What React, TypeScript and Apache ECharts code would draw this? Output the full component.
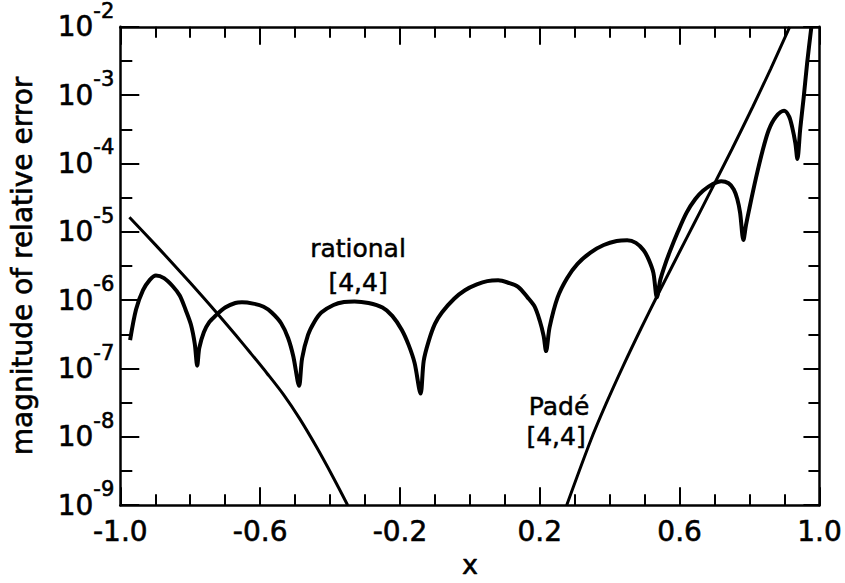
import React, { useEffect, useRef } from "react";
import * as echarts from "echarts";

// rational [4,4] approximation error (x, |relative error|)
const rationalX = [
  -0.972, -0.955, -0.935, -0.915, -0.898, -0.875, -0.85, -0.83, -0.813, -0.798, -0.787, -0.78,
  -0.774, -0.761, -0.745, -0.728, -0.7, -0.671, -0.652, -0.62, -0.59, -0.567, -0.54, -0.52, -0.505, -0.4885,
  -0.48, -0.463, -0.445, -0.425, -0.39, -0.36, -0.33, -0.29, -0.25, -0.222, -0.195, -0.175, -0.158, -0.141,
  -0.132, -0.118, -0.1, -0.08, -0.045, -0.014, 0.02, 0.05, 0.081, 0.11, 0.138, 0.165, 0.185, 0.2, 0.211, 0.218,
  0.228, 0.251, 0.278, 0.308, 0.345, 0.383, 0.42, 0.45, 0.475, 0.497, 0.512, 0.525, 0.535,
  0.545, 0.557, 0.572, 0.595, 0.62, 0.645, 0.667, 0.695, 0.719, 0.74, 0.755, 0.765, 0.773, 0.7825,
  0.79, 0.7995, 0.818, 0.837, 0.855, 0.875, 0.899, 0.913, 0.922, 0.931, 0.937,
  0.945, 0.955, 0.965, 0.977,
];
const rationalErr = [
  2.6e-7, 7.3e-7, 1.4e-6, 2.0e-6, 2.3e-6, 2.1e-6, 1.6e-6, 1.17e-6, 7.2e-7, 4.4e-7, 2.3e-7, 1.1e-7,
  2.0e-7, 3.4e-7, 4.8e-7, 5.9e-7, 7.8e-7, 9.1e-7, 9.3e-7, 8.9e-7, 8.0e-7, 6.6e-7, 4.6e-7, 2.8e-7, 1.5e-7, 5.6e-8,
  1.4e-7, 3.1e-7, 4.8e-7, 6.6e-7, 8.5e-7, 9.4e-7, 9.6e-7, 9.1e-7, 7.8e-7, 5.9e-7, 3.7e-7, 2.2e-7, 1.2e-7, 4.3e-8,
  1.3e-7, 2.5e-7, 4.5e-7, 6.6e-7, 1.05e-6, 1.4e-6, 1.7e-6, 1.9e-6, 1.95e-6, 1.8e-6, 1.57e-6, 1.1e-6, 8.1e-7, 5.0e-7, 3.0e-7, 1.8e-7,
  4.0e-7, 1.1e-6, 2.1e-6, 3.4e-6, 4.98e-6, 6.41e-6, 7.35e-6, 7.55e-6, 6.9e-6, 5.37e-6, 3.89e-6, 2.51e-6, 1.1e-6,
  2.0e-6, 3.16e-6, 5.13e-6, 1.0e-5, 1.91e-5, 3.02e-5, 3.98e-5, 5.01e-5, 5.5e-5, 5.13e-5, 4.17e-5, 3.02e-5, 1.91e-5, 7.6e-6,
  1.26e-5, 2.19e-5, 6.0e-5, 1.51e-4, 3.09e-4, 4.79e-4, 5.89e-4, 4.9e-4, 3.4e-4, 2.0e-4, 1.16e-4,
  3.2e-4, 9.3e-4, 3.0e-3, 1.0e-2,
];

// Padé [4,4] error, left branch
const padeLeftX = [-0.974, -0.9, -0.83, -0.77, -0.72, -0.67, -0.628, -0.58, -0.534, -0.4865, -0.439, -0.392, -0.3495];
const padeLeftErr = [1.63e-5, 6.5e-6, 2.65e-6, 1.21e-6, 6.17e-7, 3.09e-7, 1.7e-7, 8.47e-8, 4.21e-8, 1.83e-8, 7.14e-9, 2.61e-9, 1.0e-9];

// Padé [4,4] error, right branch
const padeRightX = [0.277, 0.3456, 0.39, 0.44, 0.49, 0.535, 0.58, 0.62, 0.66, 0.705, 0.75, 0.809, 0.86, 0.915];
const padeRightErr = [1.0e-9, 8.85e-9, 3.08e-8, 1.13e-7, 3.88e-7, 1.13e-6, 3.22e-6, 8.09e-6, 2.03e-5, 5.73e-5, 1.63e-4, 6.71e-4, 2.39e-3, 1.0e-2];

const X_MIN = -1.0;
const X_MAX = 1.0;
const X_STEP = 0.4;
const Y_MIN = 1e-9;
const Y_MAX = 1e-2;
const EXP_MIN = -9;
const EXP_MAX = -2;

const FONT = "DejaVu Sans";

const zip = (xs: number[], ys: number[]) => xs.map((x, i) => [x, ys[i]]);

export default function App() {
  const ref = useRef<HTMLDivElement>(null);

  useEffect(() => {
    document.body.style.margin = "0";
    if (!ref.current) return;
    const chart = echarts.init(ref.current, null, { renderer: "svg" });

    const axisLine = { show: true, onZero: false, lineStyle: { color: "#000", width: 2.5 } };
    const noLine = { show: false, onZero: false };
    const tickStyle = { color: "#000", width: 2 };
    const heavy = { textBorderColor: "#000", textBorderWidth: 0.6 };

    const xCommon = {
      type: "value" as const,
      min: X_MIN,
      max: X_MAX,
      interval: X_STEP,
      axisLine,
      axisTick: { show: true, inside: true, length: 18, lineStyle: tickStyle },
      minorTick: { show: true, splitNumber: 4, length: 11, lineStyle: tickStyle },
      splitLine: { show: false },
      minorSplitLine: { show: false },
    };

    const textStyle = (text: string) => ({
      text,
      font: `25px "${FONT}"`,
      fill: "#000",
      stroke: "#000",
      lineWidth: 0.5,
      align: "center",
      verticalAlign: "middle",
    });

    const option: any = {
      animation: false,
      backgroundColor: "#fff",
      grid: { left: 119, right: 21, top: 22, bottom: 68, containLabel: false },
      xAxis: [
        {
          ...xCommon,
          position: "bottom",
          name: "x",
          nameLocation: "middle",
          nameGap: 38,
          nameTextStyle: { fontFamily: FONT, fontSize: 27, color: "#000", ...heavy },
          axisLabel: {
            show: true,
            margin: 12,
            fontFamily: FONT,
            fontSize: 28,
            color: "#000",
            ...heavy,
            formatter: (v: number) => v.toFixed(1),
          },
        },
        {
          ...xCommon,
          position: "top",
          axisLabel: { show: false },
        },
      ],
      yAxis: [
        {
          type: "log",
          logBase: 10,
          min: Y_MIN,
          max: Y_MAX,
          position: "left",
          name: "magnitude of relative error",
          nameLocation: "middle",
          nameGap: 84,
          nameRotate: 90,
          nameTextStyle: { fontFamily: FONT, fontSize: 28, color: "#000", ...heavy },
          axisLine,
          axisTick: { show: true, inside: true, length: 19, lineStyle: tickStyle },
          splitLine: { show: false },
          axisLabel: {
            show: true,
            margin: 6,
            formatter: (v: number) => `{b|10}{s|-${Math.abs(Math.round(Math.log10(v)))}}`,
            rich: {
              b: { fontFamily: FONT, fontSize: 28, color: "#000", ...heavy },
              s: { fontFamily: FONT, fontSize: 21, color: "#000", ...heavy, padding: [0, 0, 32, 0] },
            },
          },
        },
        {
          type: "log",
          logBase: 10,
          min: Y_MIN,
          max: Y_MAX,
          position: "right",
          axisLine,
          axisTick: { show: true, inside: true, length: 16, lineStyle: tickStyle },
          splitLine: { show: false },
          axisLabel: { show: false },
        },
        {
          type: "value",
          min: EXP_MIN,
          max: EXP_MAX,
          interval: 0.5,
          position: "left",
          axisLine: noLine,
          axisTick: { show: true, inside: true, length: 12, lineStyle: tickStyle },
          splitLine: { show: false },
          axisLabel: { show: false },
        },
        {
          type: "value",
          min: EXP_MIN,
          max: EXP_MAX,
          interval: 0.5,
          position: "right",
          axisLine: noLine,
          axisTick: { show: true, inside: true, length: 11, lineStyle: tickStyle },
          splitLine: { show: false },
          axisLabel: { show: false },
        },
      ],
      series: [
        {
          name: "rational [4,4]",
          type: "line",
          xAxisIndex: 0,
          yAxisIndex: 0,
          data: zip(rationalX, rationalErr),
          showSymbol: false,
          symbol: "none",
          smooth: 0.3,
          lineStyle: { color: "#000", width: 4, join: "round" },
          clip: true,
        },
        {
          name: "Padé [4,4]",
          type: "line",
          xAxisIndex: 0,
          yAxisIndex: 0,
          data: zip(padeLeftX, padeLeftErr),
          showSymbol: false,
          symbol: "none",
          smooth: 0.3,
          lineStyle: { color: "#000", width: 3 },
          clip: true,
        },
        {
          name: "Padé [4,4]",
          type: "line",
          xAxisIndex: 0,
          yAxisIndex: 0,
          data: zip(padeRightX, padeRightErr),
          showSymbol: false,
          symbol: "none",
          smooth: 0.3,
          lineStyle: { color: "#000", width: 3 },
          clip: true,
        },
      ],
      graphic: [
        { type: "text", x: 358, y: 248, style: textStyle("rational") },
        { type: "text", x: 358, y: 282, style: textStyle("[4,4]") },
        { type: "text", x: 559, y: 406, style: textStyle("Padé") },
        { type: "text", x: 556, y: 436, style: textStyle("[4,4]") },
      ],
    };

    chart.setOption(option);
    return () => chart.dispose();
  }, []);

  return <div ref={ref} style={{ width: 845, height: 583 }} />;
}
